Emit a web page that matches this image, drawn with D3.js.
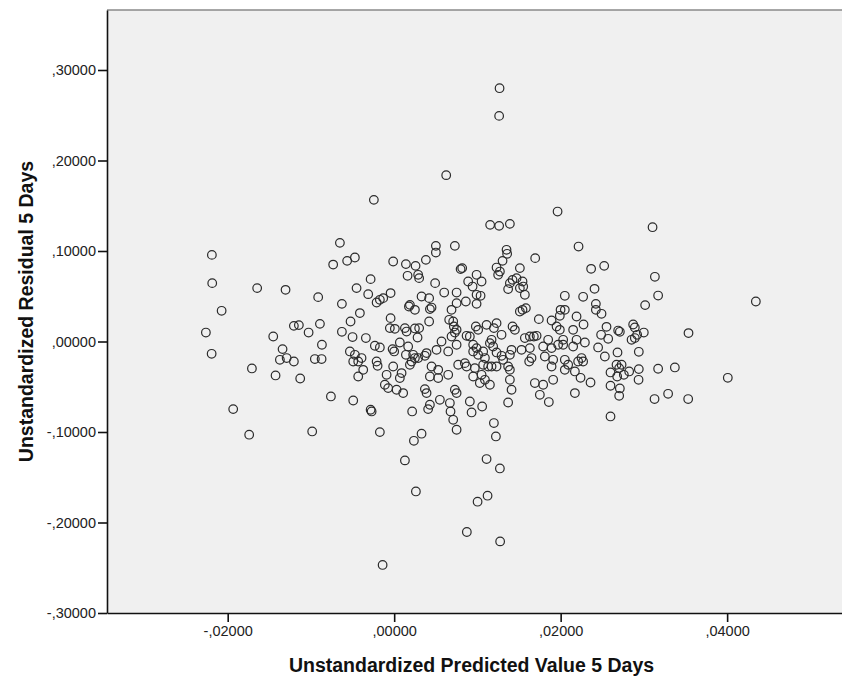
<!DOCTYPE html>
<html>
<head>
<meta charset="utf-8">
<script src="https://cdn.jsdelivr.net/npm/d3@7"></script>
<style>
  body { margin: 0; background: #fff; }
  text { font-family: "Liberation Sans", Arial, sans-serif; }
</style>
</head>
<body>
<div id="scatter"></div>
<script>
// unstandardized predicted value 5 days (x) and residual (y)
var predicted = [
    // far left
    -0.02190, -0.02186, -0.02073, -0.02262, -0.02193, -0.01646, -0.01305, -0.00913, -0.01205, -0.01145,
    -0.00892, -0.01028, -0.01453, -0.00868, -0.01341, -0.01373, -0.01292, -0.01205, -0.00953, -0.00872,
    -0.01709, -0.01425, -0.01129, -0.00760, -0.01934, -0.01742, -0.00985, -0.00733, -0.00652, -0.00628,
    -0.00628,
    // upper outliers
    0.01266, 0.01261, 0.00625, -0.00244, 0.01963, 0.01153, 0.01261, 0.01390, 0.00501, 0.00501,
    0.00729, 0.01350, 0.03104, 0.02215,
    // centre cloud
    -0.00565, -0.00472, -0.00012, 0.00141, 0.00257, 0.00381, 0.01357, 0.01302, 0.01230, 0.01694,
    0.00798, 0.00817, 0.01510, 0.00990, 0.01270, 0.01249, 0.00161, 0.00288, 0.00300, -0.00283,
    0.01422, 0.01470, 0.01542, 0.01390, 0.00889, 0.01050, 0.00492, -0.00452, -0.00312, -0.00172,
    -0.00132, -0.00043, 0.00601, 0.00750, 0.00942, 0.00990, 0.01038, 0.01369, 0.01510, 0.01550,
    0.01570, -0.00412, -0.00211, 0.00189, 0.00249, 0.00177, 0.00329, 0.00420, 0.00429, 0.00449,
    0.00420, 0.00689, 0.00750, 0.00861, 0.00990, 0.01542, 0.01582, 0.01510, 0.01999, 0.01738,
    0.01891, 0.01990, -0.00524, -0.00043, -0.00052, 0.00008, 0.00129, 0.00149, 0.00249, 0.00300,
    0.00281, 0.00661, 0.00709, 0.00717, 0.00750, 0.00981, 0.01009, 0.01110, 0.01198, 0.01230,
    0.01290, 0.01422, 0.01450, 0.01570, 0.01630, 0.01678, 0.01711, 0.01790, 0.01850, 0.01891,
    0.01951, 0.01990, -0.00500, -0.00340, -0.00232, -0.00172, -0.00019, 0.00000, 0.00068, 0.00168,
    0.00141, 0.00228, 0.00249, 0.00209, 0.00288, 0.00369, 0.00389, 0.00569, 0.00509, 0.00649,
    0.00750, 0.00689, 0.00729, 0.00870, 0.00909, 0.00949, 0.00990, 0.00949, 0.01009, 0.01069,
    0.01090, 0.01150, 0.01189, 0.01170, 0.01230, 0.01290, 0.01309, 0.01390, 0.01410, 0.01530,
    0.01630, 0.01650, 0.01622, 0.01810, 0.01910, 0.01891, -0.00532, -0.00472, -0.00432, -0.00392,
    -0.00492, -0.00211, -0.00199, -0.00372, -0.00432, -0.00012, -0.00091, 0.00089, 0.00068, 0.00189,
    0.00449, 0.00529, 0.00429, 0.00529, 0.00649, 0.00769, 0.00870, 0.00849, 0.00969, 0.01069,
    0.01129, 0.01170, 0.01230, 0.00949, 0.01050, 0.01090, 0.01150, 0.01029, 0.01369, 0.01390,
    0.01390, 0.01410, 0.01369, 0.01690, 0.01790, 0.01750, 0.01858, 0.01910, -0.00112, -0.00072,
    0.00029, 0.00108, 0.00369, 0.00389, 0.00729, 0.00750, -0.00492, -0.00283, -0.00271, 0.00216,
    0.00429, 0.00408, 0.00549, 0.00669, 0.00677, 0.00709, 0.00750, 0.00909, 0.00930, 0.01057,
    0.01198, 0.01222, -0.00172, 0.00329, 0.00237, 0.00129, 0.01110, 0.01270, 0.00261, 0.01002,
    0.01122, 0.00873, 0.01273, -0.00139,
    // right side
    0.02050, 0.02090, 0.02050, 0.02171, 0.02210, 0.02150, 0.02191, 0.02150, 0.02030, 0.02030,
    0.01970, 0.02191, 0.02171, 0.02050, 0.02366, 0.02523, 0.03132, 0.02407, 0.03171, 0.02050,
    0.02270, 0.03015, 0.04345, 0.02423, 0.02423, 0.02491, 0.02275, 0.02551, 0.02691, 0.02711,
    0.02871, 0.02891, 0.02999, 0.02919, 0.02852, 0.02891, 0.03536, 0.02291, 0.02486, 0.02571,
    0.02450, 0.02939, 0.02683, 0.02531, 0.02251, 0.02270, 0.02671, 0.02732, 0.02703, 0.02939,
    0.03171, 0.03372, 0.02599, 0.02679, 0.02759, 0.02823, 0.02239, 0.02359, 0.02936, 0.04008,
    0.02599, 0.02711, 0.02703, 0.03291, 0.03128, 0.03532, 0.02599
];

var residual = [
    // far left
    0.0957, 0.0645, 0.0339, 0.0099, -0.0136, 0.0590, 0.0571, 0.0490, 0.0173, 0.0181,
    0.0195, 0.0099, 0.0055, -0.0036, -0.0084, -0.0202, -0.0183, -0.0221, -0.0194, -0.0194,
    -0.0298, -0.0375, -0.0409, -0.0607, -0.0747, -0.1030, -0.0994, 0.0850, 0.1090, 0.0416,
    0.0107,
    // upper outliers
    0.2799, 0.2493, 0.1838, 0.1565, 0.1436, 0.1289, 0.1278, 0.1300, 0.1057, 0.0983,
    0.1057, 0.1013, 0.1263, 0.1049,
    // centre cloud
    0.0891, 0.0928, 0.0884, 0.0855, 0.0836, 0.0902, 0.0969, 0.0891, 0.0817, 0.0921,
    0.0800, 0.0811, 0.0811, 0.0737, 0.0773, 0.0737, 0.0726, 0.0737, 0.0700, 0.0689,
    0.0681, 0.0700, 0.0663, 0.0645, 0.0663, 0.0663, 0.0645, 0.0590, 0.0523, 0.0461,
    0.0479, 0.0535, 0.0541, 0.0541, 0.0607, 0.0516, 0.0505, 0.0579, 0.0590, 0.0607,
    0.0516, 0.0314, 0.0431, 0.0405, 0.0350, 0.0387, 0.0497, 0.0479, 0.0358, 0.0375,
    0.0221, 0.0350, 0.0424, 0.0442, 0.0416, 0.0350, 0.0369, 0.0331, 0.0350, 0.0247,
    0.0232, 0.0284, 0.0221, 0.0258, 0.0148, 0.0140, 0.0148, 0.0110, 0.0144, 0.0148,
    0.0044, 0.0240, 0.0221, 0.0166, 0.0129, 0.0166, 0.0129, 0.0184, 0.0148, 0.0203,
    0.0074, 0.0166, 0.0129, 0.0038, 0.0055, 0.0055, 0.0063, -0.0055, 0.0019, -0.0073,
    0.0166, 0.0129, 0.0049, 0.0038, -0.0047, -0.0066, -0.0084, -0.0110, -0.0011, -0.0055,
    -0.0147, -0.0147, -0.0183, -0.0221, -0.0183, -0.0158, -0.0128, 0.0000, -0.0092, -0.0110,
    -0.0036, 0.0055, 0.0099, 0.0063, 0.0055, -0.0036, -0.0073, -0.0110, -0.0147, -0.0110,
    -0.0183, -0.0018, -0.0055, 0.0019, -0.0121, -0.0158, -0.0202, -0.0147, -0.0092, -0.0092,
    -0.0073, -0.0183, -0.0221, -0.0166, -0.0202, -0.0276, -0.0110, -0.0147, -0.0221, -0.0183,
    -0.0221, -0.0221, -0.0268, -0.0313, -0.0387, -0.0276, -0.0368, -0.0349, -0.0404, -0.0257,
    -0.0276, -0.0313, -0.0387, -0.0404, -0.0368, -0.0257, -0.0276, -0.0239, -0.0294, -0.0257,
    -0.0276, -0.0276, -0.0276, -0.0387, -0.0368, -0.0423, -0.0478, -0.0459, -0.0276, -0.0313,
    -0.0423, -0.0533, -0.0674, -0.0459, -0.0478, -0.0589, -0.0669, -0.0423, -0.0478, -0.0515,
    -0.0533, -0.0570, -0.0526, -0.0570, -0.0533, -0.0570, -0.0652, -0.0754, -0.0773, -0.0773,
    -0.0699, -0.0747, -0.0644, -0.0680, -0.0773, -0.0865, -0.0975, -0.0663, -0.0784, -0.0718,
    -0.0901, -0.1049, -0.1001, -0.1019, -0.1097, -0.1314, -0.1299, -0.1403, -0.1657, -0.1770,
    -0.1704, -0.2105, -0.2209, -0.2469,
    // right side
    -0.0202, -0.0257, -0.0313, -0.0331, -0.0221, 0.0129, 0.0019, -0.0055, 0.0019, -0.0036,
    -0.0036, 0.0276, -0.0570, 0.0350, 0.0803, 0.0836, 0.0715, 0.0582, 0.0508, 0.0505,
    0.0494, 0.0402, 0.0442, 0.0416, 0.0350, 0.0306, 0.0188, 0.0162, 0.0121, 0.0107,
    0.0188, 0.0155, 0.0099, 0.0074, 0.0019, 0.0038, 0.0093, -0.0011, 0.0074, 0.0030,
    -0.0066, -0.0114, -0.0121, -0.0166, -0.0183, -0.0221, -0.0257, -0.0257, -0.0294, -0.0305,
    -0.0301, -0.0287, -0.0342, -0.0387, -0.0368, -0.0331, -0.0401, -0.0453, -0.0423, -0.0401,
    -0.0489, -0.0519, -0.0600, -0.0578, -0.0636, -0.0636, -0.0828
];

var xTicks = [-0.02, 0, 0.02, 0.04];
var yTicks = [-0.3, -0.2, -0.1, 0, 0.1, 0.2, 0.3];
var xTitle = "Unstandardized Predicted Value 5 Days";
var yTitle = "Unstandardized Residual 5 Days";

// set the dimensions and margins of the plot
var margin = { top: 10, right: 0, bottom: 65, left: 107 },
    width = 842 - margin.left - margin.right,
    height = 678 - margin.top - margin.bottom;

var svg = d3.select("#scatter")
    .append("svg")
    .attr("width", width + margin.left + margin.right)
    .attr("height", height + margin.top + margin.bottom)
    .append("g")
    .attr("transform", "translate(" + margin.left + "," + margin.top + ")");

var x = d3.scaleLinear().domain([-0.0345, 0.0538]).range([0, width]);
var y = d3.scaleLinear().domain([-0.3, 0.3663]).range([height, 0]);

// SPSS style number labels: ",30000" and "-,20000"
function spssFormat(d) {
    var s = d3.format(".5f")(Math.abs(d)).replace(/^0\./, ",");
    return (d < 0 ? "-" : "") + s;
}

// plot background
svg.append("rect")
    .attr("width", width)
    .attr("height", height)
    .attr("fill", "#f0f0f0");

// top frame line
svg.append("line")
    .attr("x1", 0).attr("x2", width)
    .attr("y1", 0).attr("y2", 0)
    .attr("stroke", "#8a8a8a")
    .attr("stroke-width", 1.5);

// points
svg.append("g")
    .selectAll("circle")
    .data(d3.zip(predicted, residual))
    .join("circle")
    .attr("cx", function (d) { return x(d[0]); })
    .attr("cy", function (d) { return y(d[1]); })
    .attr("r", 4.3)
    .attr("fill", "none")
    .attr("stroke", "#2b2b2b")
    .attr("stroke-width", 1.2);

// X axis
var xAxis = svg.append("g")
    .attr("transform", "translate(0," + height + ")")
    .call(d3.axisBottom(x).tickValues(xTicks).tickFormat(spssFormat)
        .tickSize(9).tickSizeOuter(0).tickPadding(4));

// Y axis
var yAxis = svg.append("g")
    .call(d3.axisLeft(y).tickValues(yTicks).tickFormat(spssFormat)
        .tickSize(9).tickSizeOuter(0).tickPadding(2));

[xAxis, yAxis].forEach(function (a) {
    a.select(".domain").attr("stroke", "#111").attr("stroke-width", 1.6);
    a.selectAll(".tick line").attr("stroke", "#111").attr("stroke-width", 1.6);
    a.selectAll(".tick text")
        .attr("fill", "#222")
        .style("font-family", "'Liberation Sans', Arial, sans-serif")
        .style("font-size", "14.5px");
});

// axis titles
svg.append("text")
    .attr("text-anchor", "middle")
    .attr("x", width / 2 - 3)
    .attr("y", height + 59)
    .style("font-size", "19.5px")
    .style("font-weight", "bold")
    .attr("fill", "#111")
    .text(xTitle);

svg.append("text")
    .attr("text-anchor", "middle")
    .attr("transform", "rotate(-90)")
    .attr("x", -height / 2)
    .attr("y", -74)
    .style("font-size", "19.5px")
    .style("font-weight", "bold")
    .attr("fill", "#111")
    .text(yTitle);
</script>
</body>
</html>
